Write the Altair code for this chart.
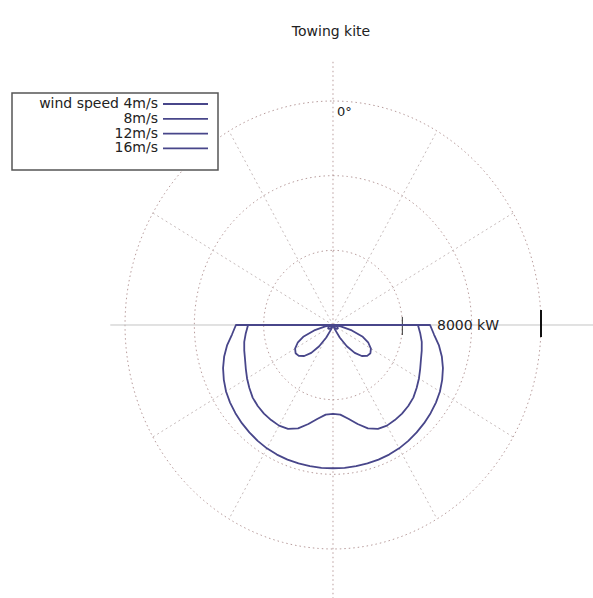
import altair as alt
import numpy as np
import pandas as pd

title_text = "Towing kite"
series_labels = ["wind speed 4m/s", "8m/s", "12m/s", "16m/s"]

# relative wind angle in degrees, clockwise from 0° (top); right half only,
# the left half of every curve is its mirror image
angle_deg = [85, 90, 95, 100, 105, 110, 115, 120, 125, 130,
             135, 140, 145, 150, 155, 160, 165, 170, 175, 180]

# towing power (kW) per wind speed
power_4 = [0, 0, 0, 110, 280, 450, 560, 630, 660, 640,
           590, 490, 350, 190, 70, 0, 0, 0, 0, 0]
power_8 = [0, 0, 0, 900, 2250, 3600, 4500, 5050, 5270, 5150,
           4700, 3900, 2780, 1550, 550, 0, 0, 0, 0, 0]
power_12 = [0, 9800, 10100, 10400, 10600, 10800, 11100, 11450, 11780, 12100,
            12280, 12390, 12440, 12450, 12270, 11780, 10980, 10200, 9640, 9530]
power_16 = [0, 11200, 11700, 12400, 13000, 13500, 13900, 14250, 14500, 14700,
            14870, 15020, 15150, 15260, 15320, 15350, 15360, 15360, 15360, 15350]

grid_radii = [8000, 16000, 24000]
spoke_angles = [30, 60, 120, 150, 210, 240, 300, 330]
rtic_label = "8000 kW"
top_label = "0°"

LINE = "#48468a"
GRID = "#b89c9c"
FONT = "DejaVu Sans"

# ---- curve table: right half then mirrored left half, in drawing order
rows = []
for lab, pw in zip(series_labels, [power_4, power_8, power_12, power_16]):
    k = 0
    for a, p in zip(angle_deg, pw):
        rows.append({"series": lab, "theta": a, "power": p, "k": k})
        k += 1
    for a, p in zip(angle_deg[::-1][1:], pw[::-1][1:]):
        rows.append({"series": lab, "theta": 360 - a, "power": p, "k": k})
        k += 1
curves = pd.DataFrame(rows)

# ---- polar grid circles and spokes
circ_rows = []
for r in grid_radii:
    for i, a in enumerate(np.arange(0, 361, 2)):
        circ_rows.append({"r": r, "theta": float(a), "power": r, "k": i})
circles = pd.DataFrame(circ_rows)

spoke_rows = []
for s in spoke_angles:
    spoke_rows.append({"spoke": s, "theta": s, "power": 0, "k": 0})
    spoke_rows.append({"spoke": s, "theta": s, "power": grid_radii[-1], "k": 1})
spokes = pd.DataFrame(spoke_rows)

xs = alt.Scale(domain=[-38423, 30000], nice=False, zero=False)
ys = alt.Scale(domain=[-29250, 34821], nice=False, zero=False)

to_x = "datum.power * sin(datum.theta * PI / 180)"
to_y = "datum.power * cos(datum.theta * PI / 180)"


def polar(df):
    return alt.Chart(df).transform_calculate(px=to_x, py=to_y)


enc_xy = dict(
    x=alt.X("px:Q", scale=xs, axis=None),
    y=alt.Y("py:Q", scale=ys, axis=None),
    order="k:Q",
)

circle_layer = polar(circles).mark_line(
    color=GRID, strokeWidth=1, strokeDash=[1.5, 3]
).encode(detail="r:N", **enc_xy)

spoke_layer = polar(spokes).mark_line(
    color="#b8aaaa", strokeWidth=1, strokeDash=[2, 3], opacity=0.8
).encode(detail="spoke:N", **enc_xy)

# zero axes through the pole
v_axis = alt.Chart(pd.DataFrame({"x0": [0], "ya": [28200], "yb": [-29250]})).mark_rule(
    color=GRID, strokeWidth=1, strokeDash=[1.5, 3]
).encode(
    x=alt.X("x0:Q", scale=xs, axis=None),
    y=alt.Y("ya:Q", scale=ys, axis=None),
    y2="yb:Q",
)
h_axis = alt.Chart(pd.DataFrame({"y0": [0], "xa": [-25700], "xb": [30000]})).mark_rule(
    color="#c4c4c4", strokeWidth=1
).encode(
    y=alt.Y("y0:Q", scale=ys, axis=None),
    x=alt.X("xa:Q", scale=xs, axis=None),
    x2="xb:Q",
)

# r tics on the horizontal axis
tick_small = alt.Chart(pd.DataFrame({"r": [grid_radii[0]]})).mark_rule(
    color="#333333", strokeWidth=1
).encode(x=alt.X("r:Q", scale=xs, axis=None), y=alt.value(317), y2=alt.value(335))
tick_big = alt.Chart(pd.DataFrame({"r": [grid_radii[-1]]})).mark_rule(
    color="#111111", strokeWidth=2
).encode(x=alt.X("r:Q", scale=xs, axis=None), y=alt.value(310), y2=alt.value(337))

curve_layer = polar(curves).mark_line(
    color=LINE, strokeWidth=1.8, strokeJoin="round", interpolate="linear"
).encode(detail="series:N", **enc_xy)

one = pd.DataFrame({"a": [0]})

rtic_text = alt.Chart(pd.DataFrame({"xt": [12000]})).mark_text(
    text=rtic_label, font=FONT, fontSize=14, align="left", baseline="middle", color="#222222"
).encode(x=alt.X("xt:Q", scale=xs, axis=None), y=alt.value(326))

top_text = alt.Chart(one).mark_text(
    text=top_label, font=FONT, fontSize=13, align="left", baseline="middle", color="#222222"
).encode(x=alt.value(337), y=alt.value(112))

title_mark = alt.Chart(one).mark_text(
    text=title_text, font=FONT, fontSize=14, align="center", baseline="middle", color="#222222"
).encode(x=alt.value(331), y=alt.value(32))

legend_box = alt.Chart(one).mark_rect(
    fill="white", stroke="#555555", strokeWidth=1.5
).encode(x=alt.value(12), x2=alt.value(218), y=alt.value(93), y2=alt.value(170))

legend_layers = [legend_box]
for i, lab in enumerate(series_labels):
    yy = 104 + 14.8 * i
    legend_layers.append(
        alt.Chart(one).mark_text(
            text=lab, font=FONT, fontSize=14, align="right", baseline="middle", color="#222222"
        ).encode(x=alt.value(158), y=alt.value(yy))
    )
    legend_layers.append(
        alt.Chart(one).mark_rule(color=LINE, strokeWidth=1.8).encode(
            x=alt.value(163), x2=alt.value(208), y=alt.value(yy)
        )
    )

chart = alt.layer(
    circle_layer, spoke_layer, v_axis, h_axis, tick_small, tick_big,
    curve_layer, rtic_text, top_text, title_mark, *legend_layers
).properties(
    width=593, height=598, autosize=alt.AutoSizeParams(type="none"), padding=0
).configure_view(strokeWidth=0)

chart.save("out.html", embed_options={"renderer": "svg", "actions": False})
